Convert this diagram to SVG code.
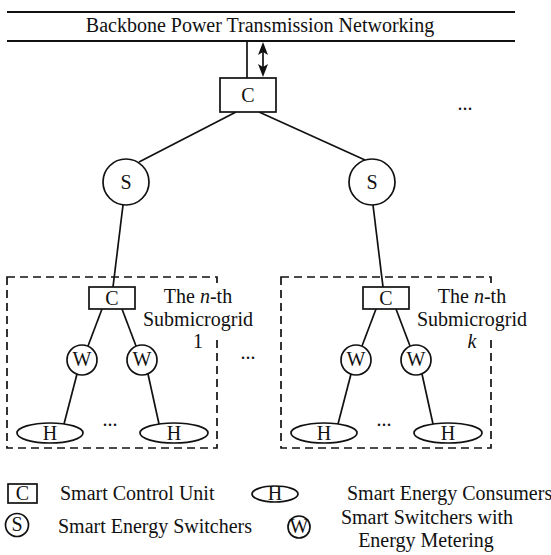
<svg xmlns="http://www.w3.org/2000/svg" width="551" height="555" viewBox="0 0 551 555">
<style>
text{font-family:"Liberation Serif","Times New Roman",serif;fill:#111;font-size:20px}
.m{text-anchor:middle}
.ln{stroke:#111;stroke-width:1.7;fill:none}
.nd{stroke:#111;stroke-width:1.7;fill:#fff}
.dash{stroke:#111;stroke-width:1.7;fill:none;stroke-dasharray:8,5}
.head{fill:#111;stroke:none}
</style>
<rect width="551" height="555" fill="#fff"/>

<g id="backbone">
<line x1="7" y1="12" x2="515" y2="12" stroke="#111" stroke-width="2"/>
<line x1="7" y1="41" x2="515" y2="41" stroke="#111" stroke-width="2"/>
<text class="m" x="260" y="32">Backbone Power Transmission Networking</text>
</g>

<g id="connectors">
<line class="ln" x1="247" y1="41" x2="247" y2="78"/>
<line class="ln" x1="263" y1="50" x2="263" y2="70" stroke-width="2"/>
<polygon class="head" points="263,42 268,55 263,52 258,55"/>
<polygon class="head" points="263,77 268,64 263,67 258,64"/>
<line class="ln" x1="236" y1="112" x2="139" y2="162"/>
<line class="ln" x1="259" y1="112" x2="365" y2="160"/>
<line class="ln" x1="123" y1="205" x2="113" y2="287"/>
<line class="ln" x1="373" y1="205" x2="383" y2="287"/>
<line class="ln" x1="102" y1="309" x2="88" y2="346"/>
<line class="ln" x1="122" y1="309" x2="136" y2="346"/>
<line class="ln" x1="77" y1="374" x2="64" y2="424"/>
<line class="ln" x1="148" y1="374" x2="159" y2="424"/>
<line class="ln" x1="376" y1="309" x2="362" y2="346"/>
<line class="ln" x1="396" y1="309" x2="410" y2="346"/>
<line class="ln" x1="351" y1="374" x2="338" y2="424"/>
<line class="ln" x1="422" y1="374" x2="433" y2="424"/>
</g>

<g id="C-main">
<rect class="nd" x="220" y="78" width="56" height="34"/>
<text class="m" x="248" y="102">C</text>
</g>
<g id="S-1">
<circle class="nd" cx="126" cy="182" r="23"/>
<text class="m" x="126" y="189">S</text>
</g>
<g id="S-k">
<circle class="nd" cx="372" cy="182" r="23"/>
<text class="m" x="372" y="189">S</text>
</g>
<g id="dots-top"><text class="m" x="465" y="110">...</text></g>

<g id="submicrogrid-1">
<rect class="dash" x="7" y="277" width="210" height="171"/>
<rect x="141" y="283" width="114" height="54" fill="#fff"/>
<text class="m" x="198" y="303">The <tspan font-style="italic">n</tspan>-th</text>
<text class="m" x="198" y="326">Submicrogrid</text>
<text class="m" x="198" y="348">1</text>
</g>
<g id="C-1">
<rect class="nd" x="89" y="287" width="46" height="22"/>
<text class="m" x="112" y="305">C</text>
</g>
<g id="W-1a"><circle class="nd" cx="82" cy="360" r="15"/><text class="m" x="82" y="366" font-size="18">W</text></g>
<g id="W-1b"><circle class="nd" cx="142" cy="360" r="15"/><text class="m" x="142" y="366" font-size="18">W</text></g>
<g id="H-1a"><ellipse class="nd" cx="50" cy="433" rx="33" ry="10"/><text class="m" x="50" y="440" font-size="19">H</text></g>
<g id="H-1b"><ellipse class="nd" cx="174" cy="433" rx="34" ry="10"/><text class="m" x="174" y="440" font-size="19">H</text></g>
<g id="dots-1"><text class="m" x="110" y="426">...</text></g>
<g id="dots-mid"><text class="m" x="248" y="359">...</text></g>

<g id="submicrogrid-k">
<rect class="dash" x="281" y="277" width="210" height="171"/>
<rect x="415" y="283" width="114" height="54" fill="#fff"/>
<text class="m" x="472" y="303">The <tspan font-style="italic">n</tspan>-th</text>
<text class="m" x="472" y="326">Submicrogrid</text>
<text class="m" x="472" y="348" font-style="italic">k</text>
</g>
<g id="C-k">
<rect class="nd" x="363" y="287" width="46" height="22"/>
<text class="m" x="386" y="305">C</text>
</g>
<g id="W-ka"><circle class="nd" cx="356" cy="360" r="15"/><text class="m" x="356" y="366" font-size="18">W</text></g>
<g id="W-kb"><circle class="nd" cx="416" cy="360" r="15"/><text class="m" x="416" y="366" font-size="18">W</text></g>
<g id="H-ka"><ellipse class="nd" cx="324" cy="433" rx="33" ry="10"/><text class="m" x="324" y="440" font-size="19">H</text></g>
<g id="H-kb"><ellipse class="nd" cx="448" cy="433" rx="34" ry="10"/><text class="m" x="448" y="440" font-size="19">H</text></g>
<g id="dots-k"><text class="m" x="384" y="426">...</text></g>

<g id="legend">
<rect class="nd" x="8" y="484" width="29" height="19" stroke-width="1.3"/>
<text class="m" x="22.5" y="500" font-size="19">C</text>
<text x="60" y="500">Smart Control Unit</text>
<ellipse class="nd" cx="275" cy="494" rx="23" ry="8" stroke-width="1.3"/>
<text class="m" x="275" y="500" font-size="19">H</text>
<text x="347" y="500">Smart Energy Consumers</text>
<circle class="nd" cx="17" cy="525" r="11.5" stroke-width="1.3"/>
<text class="m" x="17" y="531" font-size="18">S</text>
<text x="58" y="533">Smart Energy Switchers</text>
<circle class="nd" cx="299" cy="527" r="11" stroke-width="1.3"/>
<text class="m" x="299" y="532.5" font-size="15">W</text>
<text class="m" x="427" y="524">Smart Switchers with</text>
<text class="m" x="426" y="547">Energy Metering</text>
</g>
</svg>
